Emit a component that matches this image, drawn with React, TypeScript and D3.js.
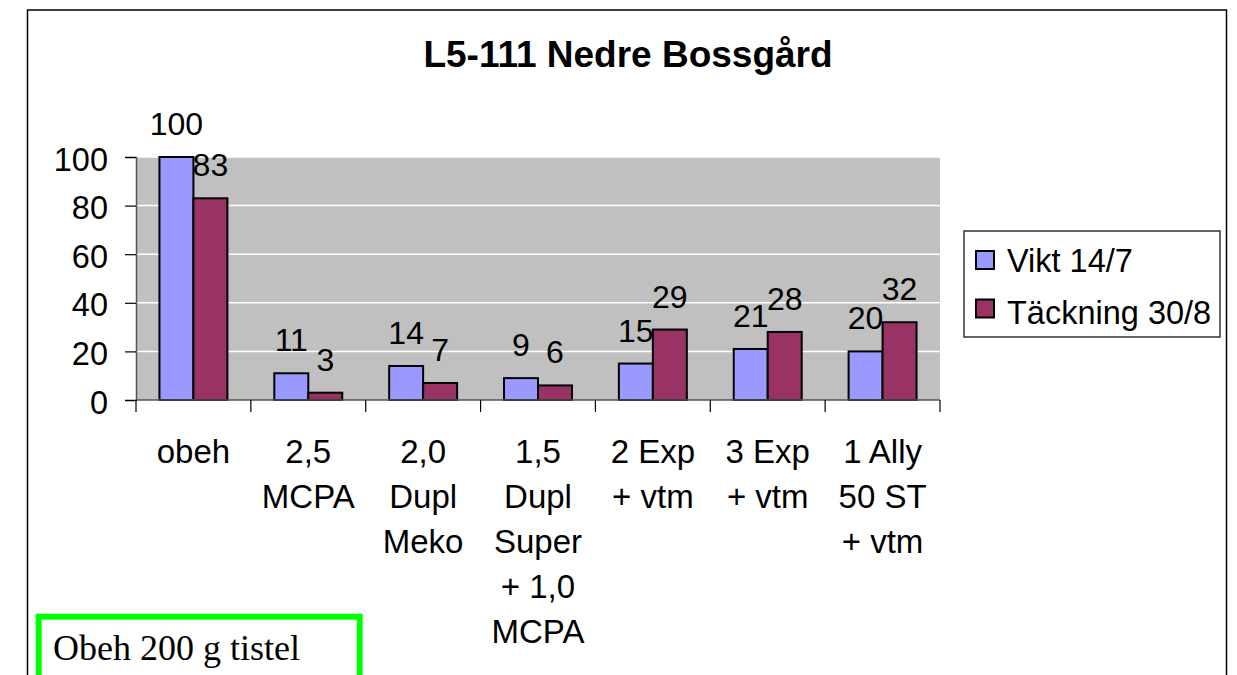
import React, { useEffect, useRef } from "react";
import * as d3 from "d3";

const categories = [
  ["obeh"],
  ["2,5", "MCPA"],
  ["2,0", "Dupl", "Meko"],
  ["1,5", "Dupl", "Super", "+ 1,0", "MCPA"],
  ["2 Exp", "+ vtm"],
  ["3 Exp", "+ vtm"],
  ["1 Ally", "50 ST", "+ vtm"],
];
const seriesNames = ["Vikt 14/7", "Täckning 30/8"];
const vikt = [100, 11, 14, 9, 15, 21, 20];
const tackning = [83, 3, 7, 6, 29, 28, 32];
const yTicks = [0, 20, 40, 60, 80, 100];
const colors = ["#9999FF", "#993366"];

const W = 1237;
const H = 675;
const FONT = "Liberation Sans, Arial, sans-serif";

const App = () => {
  const ref = useRef<SVGSVGElement>(null);

  useEffect(() => {
    const svg = d3.select(ref.current);
    svg.selectAll("*").remove();

    const plot = { left: 136, right: 940, top: 157, bottom: 400 };
    const idx = categories.map((_, i) => i);

    const x = d3.scaleBand<number>().domain(idx).range([plot.left, plot.right]).padding(0);
    const xs = d3
      .scaleBand<number>()
      .domain([0, 1])
      .range([0, x.bandwidth()])
      .paddingInner(0)
      .paddingOuter(0.69);
    const y = d3.scaleLinear().domain([0, 100]).range([plot.bottom, plot.top]);

    // chart frame
    svg
      .append("rect")
      .attr("x", 27.5)
      .attr("y", 10)
      .attr("width", 1226.5 - 27.5)
      .attr("height", H + 20)
      .attr("fill", "#fff")
      .attr("stroke", "#000")
      .attr("stroke-width", 1.5);

    // title
    svg
      .append("text")
      .attr("x", 628)
      .attr("y", 67)
      .attr("text-anchor", "middle")
      .attr("font-family", FONT)
      .attr("font-weight", "bold")
      .attr("font-size", 37)
      .text("L5-111 Nedre Bossgård");

    // plot background + grid
    svg
      .append("rect")
      .attr("x", plot.left)
      .attr("y", plot.top)
      .attr("width", plot.right - plot.left)
      .attr("height", plot.bottom - plot.top)
      .attr("fill", "#C0C0C0");

    svg
      .append("g")
      .selectAll("line")
      .data(yTicks.filter(t => t > 0))
      .join("line")
      .attr("x1", plot.left)
      .attr("x2", plot.right)
      .attr("y1", d => y(d))
      .attr("y2", d => y(d))
      .attr("stroke", "#fff")
      .attr("stroke-width", 1.5);

    // bars
    const series = [vikt, tackning];
    series.forEach((vals, s) => {
      svg
        .append("g")
        .selectAll("rect")
        .data(vals)
        .join("rect")
        .attr("x", (d, i) => (x(i) as number) + (xs(s) as number))
        .attr("y", d => y(d))
        .attr("width", xs.bandwidth())
        .attr("height", d => y(0) - y(d))
        .attr("fill", colors[s])
        .attr("stroke", "#000")
        .attr("stroke-width", 2);
    });

    // data labels
    series.forEach((vals, s) => {
      svg
        .append("g")
        .selectAll("text")
        .data(vals)
        .join("text")
        .attr("x", (d, i) => (x(i) as number) + (xs(s) as number) + xs.bandwidth() / 2)
        .attr("y", d => y(d) - 22)
        .attr("text-anchor", "middle")
        .attr("font-family", FONT)
        .attr("font-size", 32)
        .text(d => d);
    });

    // y axis
    svg
      .append("g")
      .attr("transform", `translate(${plot.left},0)`)
      .call(d3.axisLeft(y).tickValues(yTicks).tickSize(11).tickPadding(17))
      .call(g => g.select(".domain").attr("stroke", "#555").attr("stroke-width", 1.5))
      .call(g => g.selectAll(".tick line").attr("stroke", "#000").attr("stroke-width", 1.2))
      .call(g =>
        g
          .selectAll(".tick text")
          .attr("fill", "#000")
          .attr("font-family", FONT)
          .attr("font-size", 32.5)
          .attr("dy", "0.4em")
      );

    // x axis line + category ticks
    svg
      .append("line")
      .attr("x1", plot.left)
      .attr("x2", plot.right)
      .attr("y1", y(0))
      .attr("y2", y(0))
      .attr("stroke", "#555")
      .attr("stroke-width", 1.5);

    const bounds = [...idx.map(i => x(i) as number), plot.right];
    svg
      .append("g")
      .selectAll("line")
      .data(bounds)
      .join("line")
      .attr("x1", d => d)
      .attr("x2", d => d)
      .attr("y1", y(0))
      .attr("y2", y(0) + 12)
      .attr("stroke", "#000")
      .attr("stroke-width", 1.2);

    // category labels
    const cat = svg
      .append("g")
      .selectAll("text")
      .data(categories)
      .join("text")
      .attr("text-anchor", "middle")
      .attr("font-family", FONT)
      .attr("font-size", 33);
    cat
      .selectAll("tspan")
      .data((d, i) => d.map(line => ({ line, i })))
      .join("tspan")
      .attr("x", d => (x(d.i) as number) + x.bandwidth() / 2)
      .attr("y", (d, j) => 463 + j * 45)
      .text(d => d.line);

    // legend
    const lg = svg.append("g");
    lg.append("rect")
      .attr("x", 964)
      .attr("y", 231)
      .attr("width", 256)
      .attr("height", 106)
      .attr("fill", "#fff")
      .attr("stroke", "#000")
      .attr("stroke-width", 1.2);
    seriesNames.forEach((name, s) => {
      lg.append("rect")
        .attr("x", 976)
        .attr("y", 251 + s * 48.5)
        .attr("width", 18)
        .attr("height", 18)
        .attr("fill", colors[s])
        .attr("stroke", "#000")
        .attr("stroke-width", 2);
      lg.append("text")
        .attr("x", 1007)
        .attr("y", 272 + s * 52)
        .attr("font-family", FONT)
        .attr("font-size", 32.5)
        .text(name);
    });

    // note box
    svg
      .append("rect")
      .attr("x", 38.7)
      .attr("y", 616.7)
      .attr("width", 321)
      .attr("height", 100)
      .attr("fill", "#fff")
      .attr("stroke", "#00FF00")
      .attr("stroke-width", 6);
    svg
      .append("text")
      .attr("x", 53)
      .attr("y", 660)
      .attr("font-family", "Liberation Serif, Times New Roman, serif")
      .attr("font-size", 36)
      .text("Obeh 200 g tistel");
  }, []);

  return (
    <svg
      ref={ref}
      width={W}
      height={H}
      style={{ position: "absolute", left: 0, top: 0, background: "#fff" }}
    />
  );
};

export default App;
